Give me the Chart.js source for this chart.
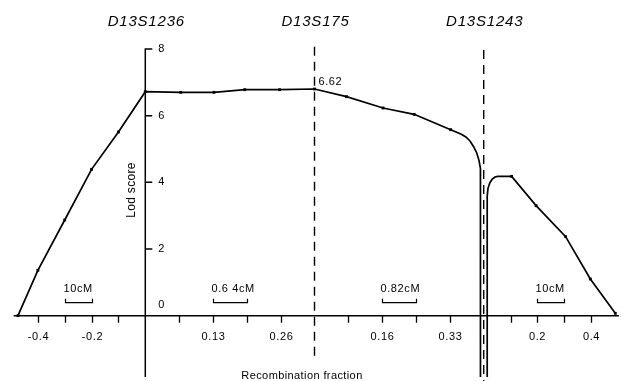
<!DOCTYPE html>
<html>
<head>
<meta charset="utf-8">
<script src="https://cdn.jsdelivr.net/npm/chart.js@4"></script>
<style>
  html, body { margin: 0; padding: 0; background: #fff; }
  #wrap { width: 622px; height: 381px; }
</style>
</head>
<body>
<div id="wrap"><canvas id="c" width="622" height="381"></canvas></div>
<script>
// --- data ---
// each interval has its own theta scale; seg 0 = left of D13S1236 (shown negative),
// seg 1 = D13S1236..D13S175, seg 2 = D13S175..D13S1243, seg 3 = right of D13S1243
const markerNames = ['D13S1236', 'D13S175', 'D13S1243'];
const markerSeg = [1, 2, 3];

const thetaA = [-0.474, -0.4, -0.3, -0.2, -0.1, 0];
const lodA = [0, 1.36, 2.87, 4.39, 5.51, 6.72];

const thetaB = [0.068, 0.132, 0.191, 0.258, 0.325];
const lodB = [6.70, 6.70, 6.78, 6.78, 6.80];

const thetaC = [0.078, 0.167, 0.243, 0.332];
const lodC = [6.57, 6.23, 6.04, 5.58];
// bend into the recombination hole near D13S1243
const thetaCTail = [0.345, 0.358, 0.369, 0.379, 0.388, 0.3955, 0.4010, 0.4045, 0.4046];
const lodCTail = [5.51, 5.44, 5.36, 5.24, 5.07, 4.88, 4.66, 4.42, -2.2];

const thetaDHead = [0.0125, 0.013, 0.016, 0.023, 0.032, 0.0420];
const lodDHead = [-2.2, 3.58, 3.82, 3.99, 4.10, 4.16];
const thetaD = [0.052, 0.104, 0.195, 0.305, 0.397, 0.49];
const lodD = [4.18, 4.18, 3.30, 2.37, 1.10, 0.07];

const peakLabel = '6.62';

const lodTicks = [0, 2, 4, 6, 8];

const ticksA = [-0.4, -0.3, -0.2, -0.1];
const tickLabelsA = ['-0.4', '', '-0.2', ''];
const ticksB = [0.065, 0.13, 0.195, 0.26];
const tickLabelsB = ['', '0.13', '', '0.26'];
const ticksC = [0.0825, 0.165, 0.2475, 0.33];
const tickLabelsC = ['', '0.16', '', '0.33'];
const ticksD = [0.1, 0.2, 0.3, 0.4];
const tickLabelsD = ['', '0.2', '', '0.4'];

const barSeg = [0, 1, 2, 3];
const barFrom = [-0.3, 0.13, 0.165, 0.2];
const barTo = [-0.2, 0.195, 0.2475, 0.3];
const barText = ['10cM', '0.6 4cM', '0.82cM', '10cM'];

// map (segment, theta) onto the shared x axis
const SEG_W = 0.63;
function toPos(seg, t) {
  if (seg === 0) return t;
  if (seg === 1) return t / 0.325 * SEG_W;
  if (seg === 2) return SEG_W + t / 0.4125 * SEG_W;
  return 2 * SEG_W + t;
}
const pts = (seg, th, lod) => th.map((t, i) => ({ x: toPos(seg, t), y: lod[i] }));

const leftCurve = [...pts(0, thetaA, lodA), ...pts(1, thetaB, lodB), ...pts(2, thetaC, lodC), ...pts(2, thetaCTail, lodCTail)];
const leftRadius = leftCurve.map((p, i) => i < thetaA.length + thetaB.length + thetaC.length ? 2 : 0);
const rightCurve = [...pts(3, thetaDHead, lodDHead), ...pts(3, thetaD, lodD)];
const rightRadius = rightCurve.map((p, i) => i >= thetaDHead.length + 1 ? 2 : 0);

const FONT = '"Liberation Sans", Arial, Helvetica, sans-serif';

const dashLine = (pos, bottom) => ({
  data: [{ x: pos, y: bottom }, { x: pos, y: 8.15 }],
  borderColor: '#000', borderWidth: 1.4, borderDash: [9, 6],
  pointRadius: 0, clip: false
});

const lodPlugin = {
  id: 'lodAxes',
  beforeDatasetsDraw(chart) {
    const { ctx, scales: { x, y }, chartArea } = chart;
    const x0 = x.getPixelForValue(0);
    const y0 = y.getPixelForValue(0);
    ctx.save();
    ctx.strokeStyle = '#000';
    ctx.lineWidth = 1.5;
    ctx.beginPath();
    ctx.moveTo(x.getPixelForValue(-0.49), y0);
    ctx.lineTo(chartArea.right + 1, y0);
    ctx.moveTo(x0, y.getPixelForValue(8));
    ctx.lineTo(x0, chartArea.bottom);
    lodTicks.forEach(v => {
      if (v === 0) return;
      const py = y.getPixelForValue(v);
      ctx.moveTo(x0 - 0.7, py);
      ctx.lineTo(x0 + 7, py);
    });
    ctx.stroke();

    // x ticks + labels
    ctx.font = '11px ' + FONT;
    ctx.fillStyle = '#000';
    ctx.textAlign = 'center';
    ctx.textBaseline = 'middle';
    ctx.letterSpacing = '0.6px';
    const segTicks = [[ticksA, tickLabelsA], [ticksB, tickLabelsB], [ticksC, tickLabelsC], [ticksD, tickLabelsD]];
    ctx.lineWidth = 1.3;
    ctx.beginPath();
    segTicks.forEach(([tv, tl], seg) => {
      tv.forEach((t, i) => {
        const px = Math.round(x.getPixelForValue(toPos(seg, t))) + 0.5;
        ctx.moveTo(px, y0);
        ctx.lineTo(px, y0 + 7);
        if (tl[i]) ctx.fillText(tl[i], px, y0 + 21);
      });
    });
    ctx.stroke();

    // y tick labels
    ctx.textAlign = 'left';
    lodTicks.forEach(v => {
      const py = v === 0 ? y0 - 11 : y.getPixelForValue(v);
      ctx.fillText(String(v), x0 + 13, py);
    });

    // cM scale bars
    ctx.lineWidth = 1.2;
    barSeg.forEach((seg, i) => {
      const a = Math.round(x.getPixelForValue(toPos(seg, barFrom[i]))) + 0.5;
      const b = Math.round(x.getPixelForValue(toPos(seg, barTo[i]))) + 0.5;
      const by = y0 - 13;
      ctx.beginPath();
      ctx.moveTo(a, by - 4); ctx.lineTo(a, by); ctx.lineTo(b, by); ctx.lineTo(b, by - 4);
      ctx.stroke();
      ctx.fillText(barText[i], a - 2, by - 14);
    });
    ctx.restore();
  },
  afterDraw(chart) {
    const { ctx, scales: { x, y } } = chart;
    ctx.save();
    ctx.fillStyle = '#000';
    ctx.textBaseline = 'middle';
    ctx.textAlign = 'center';

    ctx.font = 'italic 15px ' + FONT;
    ctx.letterSpacing = '0.8px';
    markerNames.forEach((n, i) => {
      ctx.fillText(n, x.getPixelForValue(toPos(markerSeg[i], 0)) + 1, 22);
    });

    ctx.font = '11px ' + FONT;
    ctx.letterSpacing = '0.4px';
    ctx.fillText('Recombination fraction', 302, 376);

    ctx.font = '11px ' + FONT;
    ctx.letterSpacing = '0.6px';
    ctx.textAlign = 'left';
    const pk = toPos(1, thetaB[thetaB.length - 1]);
    ctx.fillText(peakLabel, x.getPixelForValue(pk) + 4, y.getPixelForValue(lodB[lodB.length - 1]) - 7);

    ctx.translate(132, 190);
    ctx.rotate(-Math.PI / 2);
    ctx.textAlign = 'center';
    ctx.font = '12px ' + FONT;
    ctx.letterSpacing = '0.3px';
    ctx.fillText('Lod score', 0, 0);
    ctx.restore();
  }
};

new Chart(document.getElementById('c'), {
  type: 'line',
  data: {
    datasets: [
      dashLine(toPos(2, 0), -1.2),
      dashLine(toPos(3, 0), -2.2),
      {
        data: leftCurve, borderColor: '#000', borderWidth: 1.7, tension: 0,
        pointStyle: 'rect', pointRadius: leftRadius, pointBackgroundColor: '#000', pointBorderWidth: 0
      },
      {
        data: rightCurve, borderColor: '#000', borderWidth: 1.7, tension: 0,
        pointStyle: 'rect', pointRadius: rightRadius, pointBackgroundColor: '#000', pointBorderWidth: 0
      }
    ]
  },
  options: {
    responsive: false,
    animation: false,
    events: [],
    layout: { padding: { left: 11, right: 1, top: 44, bottom: 0 } },
    scales: {
      x: { type: 'linear', min: -0.5, max: 1.76, display: false },
      y: { type: 'linear', min: -1.84, max: 8.15, display: false }
    },
    plugins: { legend: { display: false }, tooltip: { enabled: false } }
  },
  plugins: [lodPlugin]
});
</script>
</body>
</html>
